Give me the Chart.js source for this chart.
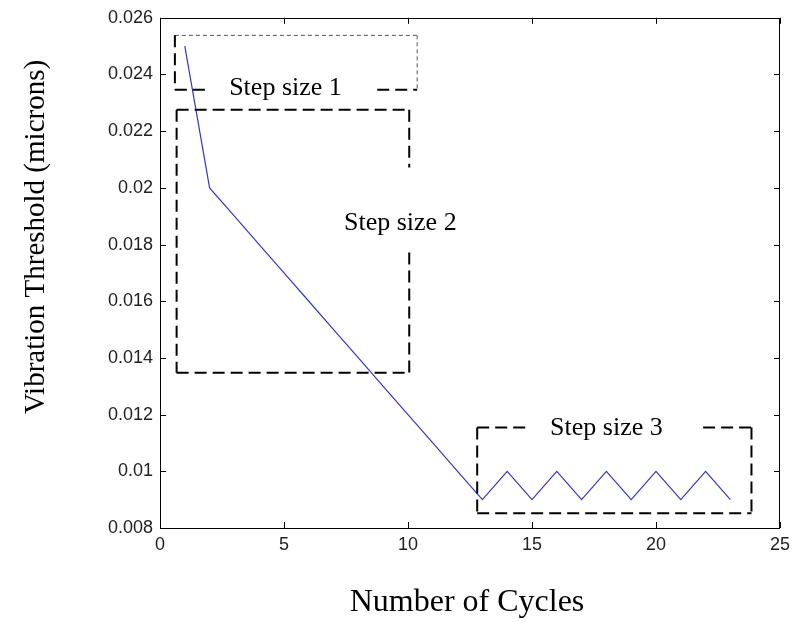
<!DOCTYPE html>
<html>
<head>
<meta charset="utf-8">
<script src="https://cdn.jsdelivr.net/npm/chart.js@4/dist/chart.umd.min.js"></script>
<style>
  html, body { margin: 0; padding: 0; background: #fff; }
  #wrap { width: 796px; height: 622px; }
</style>
</head>
<body>
<div id="wrap"><canvas id="myChart" width="796" height="622"></canvas></div>
<script>
// Values
const cycles = [1, 2, 3, 4, 5, 6, 7, 8, 9, 10, 11, 12, 13, 14, 15, 16, 17, 18, 19, 20, 21, 22, 23];
const threshold = [0.025, 0.020, 0.019, 0.018, 0.017, 0.016, 0.015, 0.014, 0.013, 0.012, 0.011, 0.010,
                   0.009, 0.010, 0.009, 0.010, 0.009, 0.010, 0.009, 0.010, 0.009, 0.010, 0.009];
const xTicks = [0, 5, 10, 15, 20, 25];
const yTicks = [0.008, 0.01, 0.012, 0.014, 0.016, 0.018, 0.02, 0.022, 0.024, 0.026];

// Dashed boxes round each phase, in data units
const stepLabels = ['Step size 1', 'Step size 2', 'Step size 3'];
const stepBoxX = [[0.6, 10.37], [0.67, 10.05], [12.79, 23.85]];
const stepBoxY = [[0.02346, 0.02538], [0.01348, 0.02276], [0.00852, 0.01155]];
const stepLabelPos = [[5.06, 0.02329], [9.69, 0.0185], [18.0, 0.01128]];
// where the dashed edge is broken for the label: [side, from, to]
const stepGaps = [['bottom', 2.0, 8.76], ['right', 0.01772, 0.02072], ['top', 14.95, 21.9]];

const points = cycles.map((c, i) => ({ x: c, y: threshold[i] }));

// frame, inward ticks, dashed boxes and axis titles
const matlabLook = {
  id: 'matlabLook',
  afterDatasetsDraw(chart) {
    const { ctx, chartArea: a, scales: { x, y } } = chart;
    ctx.save();

    // dashed boxes
    stepBoxX.forEach((bx, i) => {
      const L = x.getPixelForValue(bx[0]), R = x.getPixelForValue(bx[1]);
      const B = y.getPixelForValue(stepBoxY[i][0]), T = y.getPixelForValue(stepBoxY[i][1]);
      const gap = stepGaps[i];
      const edges = {
        top: [L, T, R, T], bottom: [L, B, R, B], left: [L, T, L, B], right: [R, T, R, B]
      };
      for (let side in edges) {
        const thin = (i === 0 && (side === 'top' || side === 'right'));
        ctx.strokeStyle = thin ? '#555' : '#000';
        ctx.lineWidth = thin ? 1 : 2;
        ctx.setLineDash(thin ? [4, 3] : [12, 6]);
        let [x0, y0, x1, y1] = edges[side];
        let segs = [[x0, y0, x1, y1]];
        if (gap[0] === side) {
          if (side === 'top' || side === 'bottom') {
            const g0 = x.getPixelForValue(gap[1]), g1 = x.getPixelForValue(gap[2]);
            segs = [[x0, y0, g0, y1], [g1, y0, x1, y1]];
          } else {
            const g0 = y.getPixelForValue(gap[2]), g1 = y.getPixelForValue(gap[1]);
            segs = [[x0, y0, x0, g0], [x0, g1, x1, y1]];
          }
        }
        segs.forEach(s => {
          ctx.beginPath();
          ctx.moveTo(s[0], s[1]);
          ctx.lineTo(s[2], s[3]);
          ctx.stroke();
        });
      }
    });
    ctx.setLineDash([]);

    // box labels
    ctx.fillStyle = '#000';
    ctx.font = '26px "Liberation Serif", "Times New Roman", serif';
    ctx.textAlign = 'center';
    ctx.textBaseline = 'alphabetic';
    stepLabels.forEach((t, i) => {
      ctx.fillText(t, x.getPixelForValue(stepLabelPos[i][0]), y.getPixelForValue(stepLabelPos[i][1]));
    });

    // axes frame
    ctx.strokeStyle = '#000';
    ctx.lineWidth = 1;
    ctx.strokeRect(Math.round(a.left) + 0.5, Math.round(a.top) + 0.5,
                   Math.round(a.right - a.left) - 1, Math.round(a.bottom - a.top));

    // inward ticks on all four sides
    const tl = 6;
    ctx.beginPath();
    xTicks.forEach(v => {
      const px = Math.round(x.getPixelForValue(v)) + 0.5;
      ctx.moveTo(px, a.bottom); ctx.lineTo(px, a.bottom - tl);
      ctx.moveTo(px, a.top); ctx.lineTo(px, a.top + tl);
    });
    yTicks.forEach(v => {
      const py = Math.round(y.getPixelForValue(v)) + 0.5;
      ctx.moveTo(a.left, py); ctx.lineTo(a.left + tl, py);
      ctx.moveTo(a.right, py); ctx.lineTo(a.right - tl, py);
    });
    ctx.stroke();

    // axis titles
    ctx.font = '32px "Liberation Serif", "Times New Roman", serif';
    ctx.fillText('Number of Cycles', 467, 611);
    ctx.translate(44, 237);
    ctx.rotate(-Math.PI / 2);
    ctx.font = '29px "Liberation Serif", "Times New Roman", serif';
    ctx.fillText('Vibration Threshold (microns)', 0, 0);
    ctx.restore();
  }
};

const ctx = document.getElementById('myChart').getContext('2d');
const myChart = new Chart(ctx, {
  type: 'line',
  data: {
    datasets: [{
      label: 'Vibration Threshold',
      data: points,
      borderColor: '#3535cc',
      borderWidth: 1.2,
      pointRadius: 0,
      tension: 0,
      fill: false
    }]
  },
  options: {
    responsive: false,
    animation: false,
    layout: { padding: { top: 17, right: 14, left: 0, bottom: 0 } },
    plugins: {
      legend: { display: false },
      tooltip: { enabled: false }
    },
    scales: {
      x: {
        type: 'linear',
        min: 0,
        max: 25,
        afterFit: s => { s.height = 94; },
        afterBuildTicks: s => { s.ticks = xTicks.map(v => ({ value: v })); },
        grid: { display: false, drawTicks: false },
        border: { display: false },
        ticks: {
          padding: 6,
          color: '#222',
          font: { family: 'Liberation Sans', size: 18 },
          maxRotation: 0,
          callback: v => String(v)
        }
      },
      y: {
        min: 0.008,
        max: 0.026,
        afterFit: s => { s.width = 160; },
        afterBuildTicks: s => { s.ticks = yTicks.map(v => ({ value: v })); },
        grid: { display: false, drawTicks: false },
        border: { display: false },
        ticks: {
          padding: 7,
          color: '#222',
          font: { family: 'Liberation Sans', size: 18 },
          callback: v => String(v)
        }
      }
    }
  },
  plugins: [matlabLook]
});
</script>
</body>
</html>
